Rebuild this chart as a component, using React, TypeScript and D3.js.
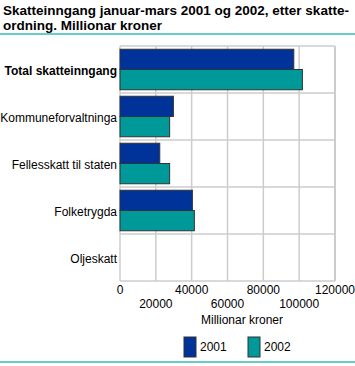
import React from "react";
import * as d3 from "d3";

const categories = ["Total skatteinngang", "Kommuneforvaltninga", "Fellesskatt til staten", "Folketrygda", "Oljeskatt"];
const series2001 = [97000, 29800, 22200, 40400, 0];
const series2002 = [101800, 27700, 27700, 41500, 0];
const seriesNames = ["2001", "2002"];
const xTicks = [0, 20000, 40000, 60000, 80000, 100000, 120000];
const titleLines = ["Skatteinngang januar-mars 2001 og 2002, etter skatte-", "ordning. Millionar kroner"];
const axisTitle = "Millionar kroner";

const colors = ["#003399", "#009999"];
const font = "'Liberation Sans', Arial, sans-serif";

export default function App() {
  const W = 355, H = 366;
  const left = 120, right = 335, top = 46, bottom = 281;
  const x = d3.scaleLinear().domain([0, 120000]).range([left, right]);
  const y = d3.scaleBand().domain(categories).range([top, bottom]).paddingInner(0).paddingOuter(0);
  const inner = d3.scaleBand().domain(seriesNames).range([0, y.bandwidth()]).paddingInner(0).paddingOuter(0.16);
  const data = [series2001, series2002];

  return (
    <svg width={W} height={H} style={{ position: "absolute", left: 0, top: 0 }} fontFamily={font}>
      <rect width={W} height={H} fill="#fff" />
      {titleLines.map((t, i) => (
        <text key={i} x={3} y={15 + i * 15} fontSize={13.5} fontWeight="bold" fill="#000">{t}</text>
      ))}
      <rect x={0} y={33} width={W} height={2} fill="#66cccc" />
      {xTicks.map((t) => (
        <line key={t} x1={x(t)} x2={x(t)} y1={top} y2={bottom} stroke="#cccccc" strokeWidth={t === 120000 ? 2 : 1.5} />
      ))}
      {categories.map((c) => (
        <line key={c} x1={left} x2={right} y1={y(c)} y2={y(c)} stroke="#cccccc" strokeWidth={1.5} />
      ))}
      <line x1={left} x2={right} y1={bottom} y2={bottom} stroke="#cccccc" strokeWidth={1.5} />
      {categories.map((c, ci) =>
        seriesNames.map((s, si) => {
          const v = data[si][ci];
          if (!v) return null;
          return (
            <rect key={c + s} x={x(0)} y={(y(c) as number) + (inner(s) as number)} width={x(v) - x(0)} height={inner.bandwidth()}
              fill={colors[si]} stroke="#333" strokeWidth={1} />
          );
        })
      )}
      {categories.map((c, i) => (
        <text key={c} x={left - 3} y={(y(c) as number) + y.bandwidth() / 2 + 5} textAnchor="end" fontSize={12}
          fontWeight={i === 0 ? "bold" : "normal"} fill="#000">{c}</text>
      ))}
      {xTicks.map((t, i) => (
        <text key={t} x={x(t)} y={294 + (i % 2) * 14} textAnchor="middle" fontSize={12} fill="#000">{t}</text>
      ))}
      <text x={242} y={324} textAnchor="middle" fontSize={12} fill="#000">{axisTitle}</text>
      {seriesNames.map((s, i) => (
        <g key={s} transform={`translate(${184 + i * 64},337)`}>
          <rect x={0} y={0} width={12} height={20} fill={colors[i]} stroke="#333" strokeWidth={1} />
          <text x={16} y={14} fontSize={12} fill="#000">{s}</text>
        </g>
      ))}
      <rect x={0} y={361} width={W} height={2} fill="#66cccc" />
    </svg>
  );
}
